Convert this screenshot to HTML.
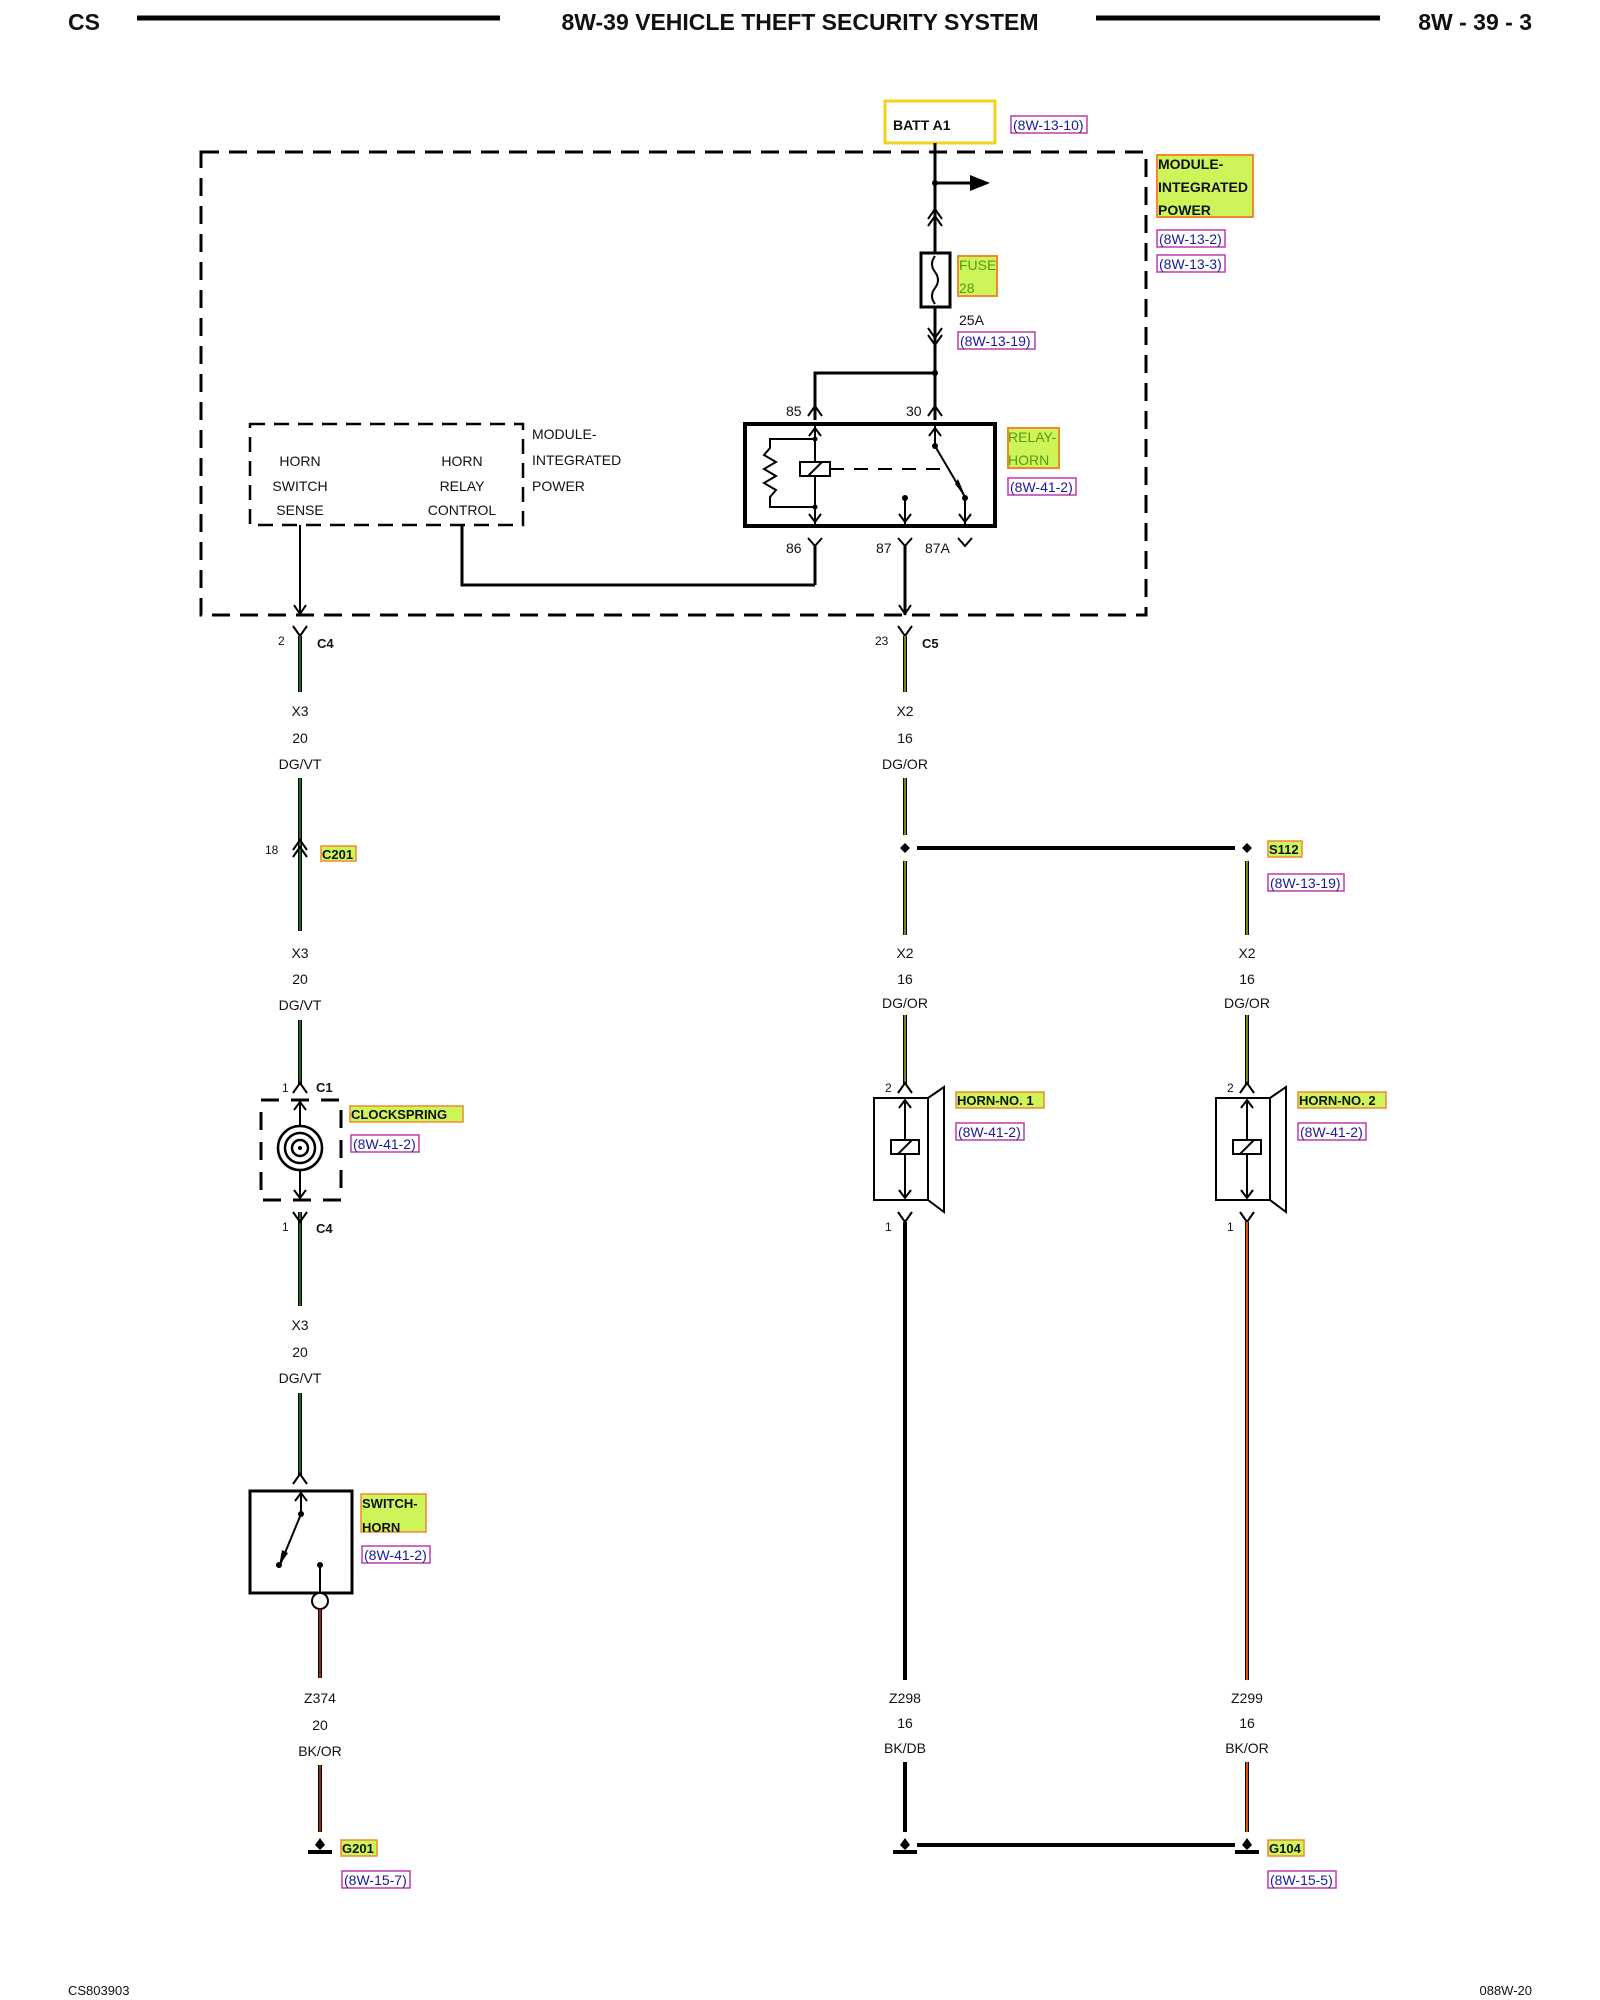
<!DOCTYPE html>
<html><head><meta charset="utf-8"><style>
html,body{margin:0;padding:0;background:#fff}
svg{display:block}
text{font-family:"Liberation Sans",sans-serif;font-size:14px;fill:#111}
.b{font-weight:bold}
.h{font-weight:bold;font-size:23px}
.ref{fill:#1a1a9a;font-size:14px}
.w{stroke:#000;stroke-width:3;fill:none}
.t{stroke:#000;stroke-width:2;fill:none}
.d{stroke:#000;stroke-width:3;fill:none;stroke-dasharray:18,10}
</style></head><body>
<svg width="1600" height="2000" viewBox="0 0 1600 2000" xmlns="http://www.w3.org/2000/svg">
<text x="68" y="30" class="h">CS</text>
<line x1="137" y1="18" x2="500" y2="18" stroke="#000" stroke-width="5"/>
<text x="800" y="30" class="h" text-anchor="middle">8W-39 VEHICLE THEFT SECURITY SYSTEM</text>
<line x1="1096" y1="18" x2="1380" y2="18" stroke="#000" stroke-width="5"/>
<text x="1532" y="30" class="h" text-anchor="end">8W - 39 - 3</text>

<rect x="885" y="101" width="110" height="42" fill="#fff" stroke="#f3d21a" stroke-width="3"/>
<text x="893" y="130" class="b">BATT A1</text>
<rect x="1011" y="116" width="76" height="17" fill="none" stroke="#c03ab0" stroke-width="1.5"/>
<text x="1013" y="130" class="ref">(8W-13-10)</text>

<rect x="201" y="152" width="945" height="463" class="d"/>
<rect x="1157" y="155" width="96" height="62" fill="#cdf55a" stroke="#f08a30" stroke-width="2"/>
<text x="1158" y="169" class="b">MODULE-</text>
<text x="1158" y="192" class="b">INTEGRATED</text>
<text x="1158" y="215" class="b">POWER</text>
<rect x="1157" y="230" width="68" height="17" fill="none" stroke="#c03ab0" stroke-width="1.5"/>
<text x="1159" y="244" class="ref">(8W-13-2)</text>
<rect x="1157" y="255" width="68" height="17" fill="none" stroke="#c03ab0" stroke-width="1.5"/>
<text x="1159" y="269" class="ref">(8W-13-3)</text>

<line x1="935" y1="143" x2="935" y2="253" class="w"/>
<circle cx="935" cy="183" r="3"/>
<line x1="935" y1="183" x2="972" y2="183" class="w"/>
<polygon points="970,175 990,183 970,191"/>
<polyline points="928,226 935,216 942,226" class="t"/>
<polyline points="928,219 935,209 942,219" class="t"/>
<rect x="921" y="253" width="29" height="54" fill="#fff" stroke="#000" stroke-width="3"/>
<path d="M935 256 q-6 8 0 16 q6 8 0 16 q-6 8 0 16" class="t"/>
<rect x="958" y="256" width="39" height="40" fill="#cdf55a" stroke="#f08a30" stroke-width="2"/>
<text x="959" y="270" style="fill:#5a9a10">FUSE</text>
<text x="959" y="293" style="fill:#5a9a10">28</text>
<text x="959" y="325">25A</text>
<rect x="958" y="332" width="77" height="17" fill="none" stroke="#c03ab0" stroke-width="1.5"/>
<text x="960" y="346" class="ref">(8W-13-19)</text>
<line x1="935" y1="307" x2="935" y2="420" class="w"/>
<polyline points="928,328 935,338 942,328" class="t"/>
<polyline points="928,335 935,345 942,335" class="t"/>
<circle cx="935" cy="373" r="3"/>
<polyline points="935,373 815,373 815,420" class="w"/>
<polyline points="808,416 815,406 822,416" class="t"/>
<polyline points="928,416 935,406 942,416" class="t"/>
<text x="786" y="416">85</text>
<text x="906" y="416">30</text>

<rect x="745" y="424" width="250" height="102" fill="#fff" stroke="#000" stroke-width="4"/>
<line x1="815" y1="426" x2="815" y2="524" class="t"/>
<polyline points="809,436 815,428 821,436" class="t"/>
<polyline points="809,514 815,522 821,514" class="t"/>
<circle cx="815" cy="439" r="2.5"/><circle cx="815" cy="507" r="2.5"/>
<polyline points="815,439 770,439 770,448 764,455 776,462 764,469 776,476 764,483 776,490 770,497 770,507 815,507" class="t"/>
<rect x="800" y="462" width="30" height="14" fill="#fff" stroke="#000" stroke-width="2"/>
<line x1="808" y1="476" x2="822" y2="462" class="t"/>
<line x1="830" y1="469" x2="945" y2="469" stroke="#000" stroke-width="2" stroke-dasharray="14,10"/>
<line x1="935" y1="426" x2="935" y2="446" class="t"/>
<polyline points="929,436 935,428 941,436" class="t"/>
<circle cx="935" cy="446" r="3"/>
<line x1="935" y1="446" x2="965" y2="497" class="t"/>
<polygon points="955,484 966,498 958,479" />
<circle cx="965" cy="498" r="3"/>
<line x1="965" y1="498" x2="965" y2="524" class="t"/>
<polyline points="959,514 965,522 971,514" class="t"/>
<circle cx="905" cy="498" r="3"/>
<line x1="905" y1="498" x2="905" y2="524" class="t"/>
<polyline points="899,514 905,522 911,514" class="t"/>
<rect x="1008" y="428" width="51" height="40" fill="#cdf55a" stroke="#f08a30" stroke-width="2"/>
<text x="1008" y="442" style="fill:#5a9a10">RELAY-</text>
<text x="1008" y="465" style="fill:#5a9a10">HORN</text>
<rect x="1008" y="478" width="68" height="17" fill="none" stroke="#c03ab0" stroke-width="1.5"/>
<text x="1010" y="492" class="ref">(8W-41-2)</text>

<polyline points="808,538 815,546 822,538" class="t"/>
<polyline points="898,538 905,546 912,538" class="t"/>
<polyline points="958,538 965,546 972,538" class="t"/>
<text x="786" y="553">86</text>
<text x="876" y="553">87</text>
<text x="925" y="553">87A</text>
<line x1="815" y1="546" x2="815" y2="585" class="w"/>
<line x1="905" y1="546" x2="905" y2="615" class="w"/>

<rect x="250" y="424" width="273" height="101" fill="none" stroke="#000" stroke-width="2.5" stroke-dasharray="15,9"/>
<text x="300" y="466" text-anchor="middle">HORN</text>
<text x="300" y="491" text-anchor="middle">SWITCH</text>
<text x="300" y="515" text-anchor="middle">SENSE</text>
<text x="462" y="466" text-anchor="middle">HORN</text>
<text x="462" y="491" text-anchor="middle">RELAY</text>
<text x="462" y="515" text-anchor="middle">CONTROL</text>
<text x="532" y="439">MODULE-</text>
<text x="532" y="465">INTEGRATED</text>
<text x="532" y="491">POWER</text>
<line x1="300" y1="525" x2="300" y2="615" class="t"/>
<polyline points="294,605 300,614 306,605" class="t"/>
<polyline points="462,525 462,585 815,585" class="w"/>
<polyline points="899,605 905,614 911,605" class="t"/>

<polyline points="293,626 300,636 307,626" class="t"/>
<text x="278" y="645" style="font-size:12px">2</text>
<text x="317" y="648" class="b" style="font-size:13px">C4</text>
<polyline points="898,626 905,636 912,626" class="t"/>
<text x="875" y="645" style="font-size:12px">23</text>
<text x="922" y="648" class="b" style="font-size:13px">C5</text>

<g>
<line x1="300" y1="636" x2="300" y2="692" stroke="#000" stroke-width="4"/><line x1="300" y1="636" x2="300" y2="692" stroke="#2a8a2a" stroke-width="1.5"/>
<line x1="300" y1="778" x2="300" y2="931" stroke="#000" stroke-width="4"/><line x1="300" y1="778" x2="300" y2="931" stroke="#2a8a2a" stroke-width="1.5"/>
<line x1="300" y1="1020" x2="300" y2="1085" stroke="#000" stroke-width="4"/><line x1="300" y1="1020" x2="300" y2="1085" stroke="#2a8a2a" stroke-width="1.5"/>
<line x1="300" y1="1212" x2="300" y2="1306" stroke="#000" stroke-width="4"/><line x1="300" y1="1212" x2="300" y2="1306" stroke="#2a8a2a" stroke-width="1.5"/>
<line x1="300" y1="1393" x2="300" y2="1476" stroke="#000" stroke-width="4"/><line x1="300" y1="1393" x2="300" y2="1476" stroke="#2a8a2a" stroke-width="1.5"/>
</g>
<text x="300" y="716" text-anchor="middle">X3</text>
<text x="300" y="743" text-anchor="middle">20</text>
<text x="300" y="769" text-anchor="middle">DG/VT</text>
<polyline points="293,850 300,840 307,850" class="t"/>
<polyline points="293,857 300,847 307,857" class="t"/>
<text x="265" y="854" style="font-size:12px">18</text>
<rect x="321" y="846" width="35" height="15" fill="#cdf55a" stroke="#f08a30" stroke-width="1.5"/>
<text x="322" y="859" class="b" style="font-size:13px">C201</text>
<text x="300" y="958" text-anchor="middle">X3</text>
<text x="300" y="984" text-anchor="middle">20</text>
<text x="300" y="1010" text-anchor="middle">DG/VT</text>
<polyline points="293,1093 300,1083 307,1093" class="t"/>
<text x="282" y="1092" style="font-size:12px">1</text>
<text x="316" y="1092" class="b" style="font-size:13px">C1</text>
<rect x="261" y="1100" width="80" height="100" fill="none" stroke="#000" stroke-width="3" stroke-dasharray="18,12"/>
<line x1="300" y1="1102" x2="300" y2="1198" class="t"/>
<polyline points="294,1110 300,1102 306,1110" class="t"/>
<polyline points="294,1190 300,1198 306,1190" class="t"/>
<circle cx="300" cy="1148" r="22" fill="#fff" stroke="#000" stroke-width="2.5"/>
<circle cx="300" cy="1148" r="15" fill="none" stroke="#000" stroke-width="2.5"/>
<circle cx="300" cy="1148" r="8" fill="none" stroke="#000" stroke-width="2.5"/>
<circle cx="300" cy="1148" r="2" fill="#000"/>
<rect x="350" y="1106" width="113" height="16" fill="#cdf55a" stroke="#f08a30" stroke-width="1.5"/>
<text x="351" y="1119" class="b" style="font-size:13px">CLOCKSPRING</text>
<rect x="351" y="1135" width="68" height="17" fill="none" stroke="#c03ab0" stroke-width="1.5"/>
<text x="353" y="1149" class="ref">(8W-41-2)</text>
<polyline points="293,1212 300,1222 307,1212" class="t"/>
<text x="282" y="1231" style="font-size:12px">1</text>
<text x="316" y="1233" class="b" style="font-size:13px">C4</text>
<text x="300" y="1330" text-anchor="middle">X3</text>
<text x="300" y="1357" text-anchor="middle">20</text>
<text x="300" y="1383" text-anchor="middle">DG/VT</text>
<polyline points="293,1484 300,1474 307,1484" class="t"/>
<rect x="250" y="1491" width="102" height="102" fill="#fff" stroke="#000" stroke-width="3"/>
<line x1="301" y1="1493" x2="301" y2="1514" class="t"/>
<polyline points="295,1501 301,1493 307,1501" class="t"/>
<circle cx="301" cy="1514" r="3"/>
<line x1="301" y1="1514" x2="280" y2="1565" class="t"/>
<polygon points="282,1550 279,1566 288,1553"/>
<circle cx="279" cy="1565" r="3"/>
<circle cx="320" cy="1565" r="3"/>
<line x1="320" y1="1565" x2="320" y2="1593" class="t"/>
<circle cx="320" cy="1601" r="8" fill="#fff" stroke="#000" stroke-width="2"/>
<rect x="361" y="1494" width="65" height="38" fill="#cdf55a" stroke="#f08a30" stroke-width="1.5"/>
<text x="362" y="1508" class="b" style="font-size:13px">SWITCH-</text>
<text x="362" y="1532" class="b" style="font-size:13px">HORN</text>
<rect x="362" y="1546" width="68" height="17" fill="none" stroke="#c03ab0" stroke-width="1.5"/>
<text x="364" y="1560" class="ref">(8W-41-2)</text>
<line x1="320" y1="1609" x2="320" y2="1678" stroke="#000" stroke-width="4"/><line x1="320" y1="1609" x2="320" y2="1678" stroke="#c04010" stroke-width="1.5"/>
<text x="320" y="1703" text-anchor="middle">Z374</text>
<text x="320" y="1730" text-anchor="middle">20</text>
<text x="320" y="1756" text-anchor="middle">BK/OR</text>
<line x1="320" y1="1765" x2="320" y2="1832" stroke="#000" stroke-width="4"/><line x1="320" y1="1765" x2="320" y2="1832" stroke="#c04010" stroke-width="1.5"/>
<polygon points="320,1838 325,1845 320,1850 315,1845"/>
<line x1="308" y1="1852" x2="332" y2="1852" stroke="#000" stroke-width="4"/>
<rect x="341" y="1840" width="36" height="16" fill="#cdf55a" stroke="#f08a30" stroke-width="1.5"/>
<text x="342" y="1853" class="b" style="font-size:13px">G201</text>
<rect x="342" y="1871" width="68" height="17" fill="none" stroke="#c03ab0" stroke-width="1.5"/>
<text x="344" y="1885" class="ref">(8W-15-7)</text>

<line x1="905" y1="636" x2="905" y2="692" stroke="#000" stroke-width="4"/><line x1="905" y1="636" x2="905" y2="692" stroke="#a8b020" stroke-width="1.5"/>
<text x="905" y="716" text-anchor="middle">X2</text>
<text x="905" y="743" text-anchor="middle">16</text>
<text x="905" y="769" text-anchor="middle">DG/OR</text>
<line x1="905" y1="778" x2="905" y2="835" stroke="#000" stroke-width="4"/><line x1="905" y1="778" x2="905" y2="835" stroke="#a8b020" stroke-width="1.5"/>
<polygon points="905,843 910,848 905,853 900,848"/>
<line x1="917" y1="848" x2="1235" y2="848" stroke="#000" stroke-width="4"/>
<polygon points="1247,843 1252,848 1247,853 1242,848"/>
<rect x="1268" y="841" width="34" height="16" fill="#cdf55a" stroke="#f08a30" stroke-width="1.5"/>
<text x="1269" y="854" class="b" style="font-size:13px">S112</text>
<rect x="1268" y="874" width="76" height="17" fill="none" stroke="#c03ab0" stroke-width="1.5"/>
<text x="1270" y="888" class="ref">(8W-13-19)</text>
<line x1="905" y1="861" x2="905" y2="935" stroke="#000" stroke-width="4"/><line x1="905" y1="861" x2="905" y2="935" stroke="#a8b020" stroke-width="1.5"/>
<line x1="1247" y1="861" x2="1247" y2="935" stroke="#000" stroke-width="4"/><line x1="1247" y1="861" x2="1247" y2="935" stroke="#a8b020" stroke-width="1.5"/>
<text x="905" y="958" text-anchor="middle">X2</text>
<text x="905" y="984" text-anchor="middle">16</text>
<text x="905" y="1008" text-anchor="middle">DG/OR</text>
<text x="1247" y="958" text-anchor="middle">X2</text>
<text x="1247" y="984" text-anchor="middle">16</text>
<text x="1247" y="1008" text-anchor="middle">DG/OR</text>
<line x1="905" y1="1015" x2="905" y2="1085" stroke="#000" stroke-width="4"/><line x1="905" y1="1015" x2="905" y2="1085" stroke="#a8b020" stroke-width="1.5"/>
<line x1="1247" y1="1015" x2="1247" y2="1085" stroke="#000" stroke-width="4"/><line x1="1247" y1="1015" x2="1247" y2="1085" stroke="#a8b020" stroke-width="1.5"/>

<g id="h1">
<polyline points="898,1093 905,1083 912,1093" class="t"/>
<text x="885" y="1092" style="font-size:12px">2</text>
<rect x="874" y="1098" width="54" height="102" fill="#fff" stroke="#000" stroke-width="2"/>
<polyline points="928,1098 944,1087 944,1212 928,1200" class="t"/>
<line x1="905" y1="1100" x2="905" y2="1198" class="t"/>
<polyline points="899,1108 905,1100 911,1108" class="t"/>
<polyline points="899,1190 905,1198 911,1190" class="t"/>
<rect x="891" y="1140" width="28" height="14" fill="#fff" stroke="#000" stroke-width="2"/>
<line x1="898" y1="1154" x2="912" y2="1140" class="t"/>
<polyline points="898,1212 905,1222 912,1212" class="t"/>
<text x="885" y="1231" style="font-size:12px">1</text>
</g>
<rect x="956" y="1092" width="88" height="16" fill="#cdf55a" stroke="#f08a30" stroke-width="1.5"/>
<text x="957" y="1105" class="b" style="font-size:13px">HORN-NO. 1</text>
<rect x="956" y="1123" width="68" height="17" fill="none" stroke="#c03ab0" stroke-width="1.5"/>
<text x="958" y="1137" class="ref">(8W-41-2)</text>
<use href="#h1" transform="translate(342,0)"/>
<rect x="1298" y="1092" width="88" height="16" fill="#cdf55a" stroke="#f08a30" stroke-width="1.5"/>
<text x="1299" y="1105" class="b" style="font-size:13px">HORN-NO. 2</text>
<rect x="1298" y="1123" width="68" height="17" fill="none" stroke="#c03ab0" stroke-width="1.5"/>
<text x="1300" y="1137" class="ref">(8W-41-2)</text>

<line x1="905" y1="1222" x2="905" y2="1680" stroke="#000" stroke-width="4"/>
<line x1="1247" y1="1222" x2="1247" y2="1680" stroke="#000" stroke-width="4"/><line x1="1247" y1="1222" x2="1247" y2="1680" stroke="#e05010" stroke-width="2"/>
<text x="905" y="1703" text-anchor="middle">Z298</text>
<text x="905" y="1728" text-anchor="middle">16</text>
<text x="905" y="1753" text-anchor="middle">BK/DB</text>
<text x="1247" y="1703" text-anchor="middle">Z299</text>
<text x="1247" y="1728" text-anchor="middle">16</text>
<text x="1247" y="1753" text-anchor="middle">BK/OR</text>
<line x1="905" y1="1762" x2="905" y2="1832" stroke="#000" stroke-width="4"/>
<line x1="1247" y1="1762" x2="1247" y2="1832" stroke="#000" stroke-width="4"/><line x1="1247" y1="1762" x2="1247" y2="1832" stroke="#e05010" stroke-width="2"/>
<polygon points="905,1838 910,1845 905,1850 900,1845"/>
<line x1="893" y1="1852" x2="917" y2="1852" stroke="#000" stroke-width="4"/>
<line x1="917" y1="1845" x2="1235" y2="1845" stroke="#000" stroke-width="4"/>
<polygon points="1247,1838 1252,1845 1247,1850 1242,1845"/>
<line x1="1235" y1="1852" x2="1259" y2="1852" stroke="#000" stroke-width="4"/>
<rect x="1268" y="1840" width="36" height="16" fill="#cdf55a" stroke="#f08a30" stroke-width="1.5"/>
<text x="1269" y="1853" class="b" style="font-size:13px">G104</text>
<rect x="1268" y="1871" width="68" height="17" fill="none" stroke="#c03ab0" stroke-width="1.5"/>
<text x="1270" y="1885" class="ref">(8W-15-5)</text>

<text x="68" y="1995" style="font-size:13px">CS803903</text>
<text x="1532" y="1995" style="font-size:13px" text-anchor="end">088W-20</text>
</svg>
</body></html>
